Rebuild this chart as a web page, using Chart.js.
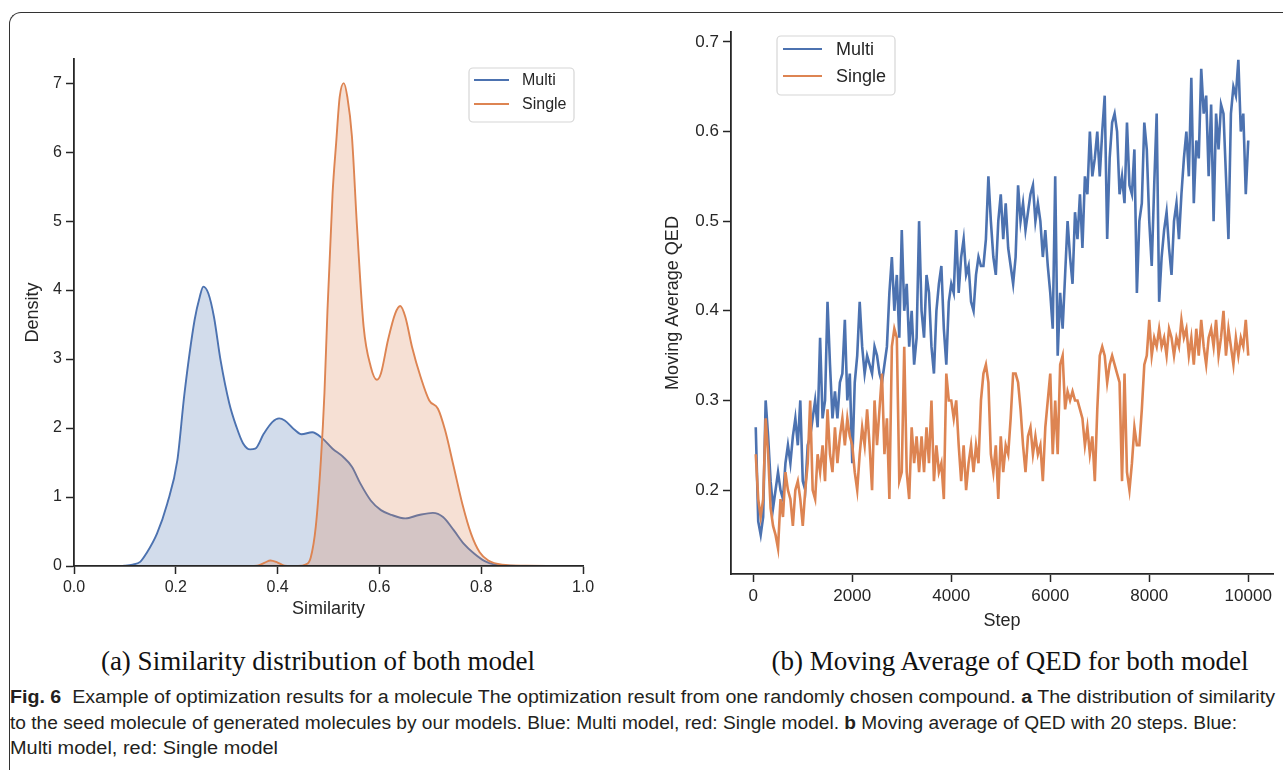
<!DOCTYPE html>
<html><head><meta charset="utf-8">
<script src="https://cdn.jsdelivr.net/npm/chart.js@4.4.0/dist/chart.umd.min.js"></script>
<style>
html,body{margin:0;padding:0;background:#fff;}
body{width:1283px;height:770px;position:relative;overflow:hidden;font-family:"Liberation Sans",Arial,sans-serif;}
#frame{position:absolute;left:9px;top:12px;width:1400px;height:900px;border-top:1.3px solid #333;border-left:1.3px solid #333;border-top-left-radius:12px;box-sizing:border-box;}
#c1{position:absolute;left:0;top:0;}
#c2{position:absolute;left:640px;top:0;}
.sub{position:absolute;font-family:"Liberation Serif","Times New Roman",serif;font-size:27px;color:#111;white-space:nowrap;transform:translate(-50%,-50%);line-height:30px;}
.cap{position:absolute;left:10px;font-family:"Liberation Sans Narrow","Liberation Sans",Arial,sans-serif;font-size:18px;color:#231f20;white-space:nowrap;transform-origin:0 50%;line-height:20px;}
.cap b{font-weight:bold;}
</style></head>
<body>
<div id="frame"></div>
<canvas id="c1" width="640" height="640"></canvas>
<canvas id="c2" width="643" height="640"></canvas>
<div class="sub" style="left:318px;top:661px;">(a) Similarity distribution of both model</div>
<div class="sub" style="left:1010px;top:661px;">(b) Moving Average of QED for both model</div>
<div class="cap" id="cap1" style="top:687px;"><b>Fig. 6</b>&nbsp; Example of optimization results for a molecule The optimization result from one randomly chosen compound. <b>a</b> The distribution of similarity</div>
<div class="cap" id="cap2" style="top:713px;">to the seed molecule of generated molecules by our models. Blue: Multi model, red: Single model. <b>b</b> Moving average of QED with 20 steps. Blue:</div>
<div class="cap" id="cap3" style="top:738px;">Multi model, red: Single model</div>
<script>
// ---------- data: (a) similarity density ----------
const multiSim = [0.08,0.10,0.115,0.13,0.142,0.163,0.183,0.203,0.217,0.237,0.247,0.254,0.264,0.275,0.288,0.305,0.319,0.332,0.346,0.356,0.373,0.390,0.403,0.414,0.434,0.447,0.468,0.488,0.508,0.529,0.546,0.563,0.583,0.603,0.624,0.651,0.678,0.705,0.725,0.746,0.766,0.786,0.807,0.827,0.854,0.90];
const multiDensity = [0,0.005,0.02,0.06,0.18,0.47,0.9,1.53,2.5,3.57,3.9,4.05,3.95,3.61,2.98,2.36,2.02,1.78,1.69,1.70,1.92,2.09,2.14,2.11,1.97,1.91,1.94,1.85,1.70,1.58,1.44,1.19,0.95,0.81,0.74,0.69,0.74,0.77,0.71,0.52,0.32,0.18,0.07,0.02,0.003,0];
const singleSim = [0.34,0.36,0.375,0.386,0.40,0.414,0.44,0.455,0.465,0.475,0.485,0.492,0.498,0.508,0.515,0.522,0.530,0.537,0.546,0.556,0.569,0.583,0.595,0.603,0.617,0.631,0.641,0.651,0.664,0.681,0.698,0.715,0.729,0.746,0.763,0.780,0.797,0.814,0.841,0.888,0.95];
const singleDensity = [0,0.005,0.05,0.08,0.05,0.005,0,0.02,0.12,0.57,1.53,2.5,3.71,5.4,6.13,6.8,7.0,6.8,6.23,4.92,3.47,2.89,2.70,2.79,3.28,3.66,3.77,3.61,3.18,2.74,2.40,2.28,1.97,1.44,0.90,0.47,0.20,0.08,0.02,0.005,0];
const simTicks = [0,0.2,0.4,0.6,0.8,1.0];
const densityTicks = [0,1,2,3,4,5,6,7];

// ---------- data: (b) moving average QED ----------
const qedSteps = [50,100,150,200,250,300,350,400,450,500,550,600,650,700,750,800,850,900,950,1000,
1050,1100,1150,1200,1250,1300,1350,1400,1450,1500,1550,1600,1650,1700,1750,1800,1850,1900,1950,2000,
2050,2100,2150,2200,2250,2300,2350,2400,2450,2500,2550,2600,2650,2700,2750,2800,2850,2900,2950,3000,
3050,3100,3150,3200,3250,3300,3350,3400,3450,3500,3550,3600,3650,3700,3750,3800,3850,3900,3950,4000,
4050,4100,4150,4200,4250,4300,4350,4400,4450,4500,4550,4600,4650,4700,4750,4800,4850,4900,4950,5000,
5050,5100,5150,5200,5250,5300,5350,5400,5450,5500,5550,5600,5650,5700,5750,5800,5850,5900,5950,6000,
6050,6100,6150,6200,6250,6300,6350,6400,6450,6500,6550,6600,6650,6700,6750,6800,6850,6900,6950,7000,
7050,7100,7150,7200,7250,7300,7350,7400,7450,7500,7550,7600,7650,7700,7750,7800,7850,7900,7950,8000,
8050,8100,8150,8200,8250,8300,8350,8400,8450,8500,8550,8600,8650,8700,8750,8800,8850,8900,8950,9000,
9050,9100,9150,9200,9250,9300,9350,9400,9450,9500,9550,9600,9650,9700,9750,9800,9850,9900,9950,10000];
const qedMulti = [0.27,0.165,0.15,0.17,0.30,0.26,0.21,0.18,0.20,0.22,0.20,0.19,0.23,0.25,0.23,0.26,0.28,0.25,0.30,0.21,
0.20,0.25,0.26,0.28,0.30,0.27,0.37,0.28,0.30,0.41,0.34,0.28,0.31,0.28,0.32,0.33,0.39,0.30,0.33,0.23,
0.32,0.35,0.41,0.36,0.33,0.35,0.34,0.33,0.36,0.35,0.33,0.32,0.34,0.36,0.42,0.46,0.40,0.44,0.37,0.49,
0.40,0.43,0.36,0.40,0.34,0.37,0.50,0.40,0.37,0.44,0.42,0.36,0.33,0.40,0.43,0.45,0.38,0.34,0.41,0.43,
0.42,0.49,0.42,0.46,0.48,0.44,0.45,0.41,0.40,0.44,0.46,0.45,0.45,0.48,0.55,0.50,0.46,0.44,0.50,0.53,
0.48,0.52,0.47,0.45,0.43,0.46,0.54,0.50,0.52,0.49,0.51,0.53,0.54,0.50,0.52,0.50,0.46,0.49,0.45,0.42,
0.38,0.55,0.35,0.42,0.38,0.44,0.50,0.46,0.43,0.51,0.48,0.53,0.47,0.55,0.53,0.60,0.55,0.57,0.60,0.55,
0.60,0.64,0.48,0.57,0.61,0.62,0.60,0.53,0.55,0.52,0.61,0.54,0.53,0.58,0.42,0.50,0.52,0.61,0.58,0.50,
0.45,0.54,0.62,0.41,0.46,0.49,0.51,0.47,0.44,0.50,0.52,0.48,0.53,0.57,0.60,0.55,0.66,0.52,0.59,0.57,
0.67,0.62,0.64,0.55,0.63,0.50,0.62,0.58,0.63,0.62,0.55,0.48,0.62,0.65,0.64,0.68,0.60,0.62,0.53,0.59];
const qedSingle = [0.24,0.19,0.17,0.19,0.28,0.24,0.18,0.16,0.15,0.135,0.19,0.17,0.22,0.20,0.19,0.16,0.20,0.21,0.19,0.16,
0.20,0.23,0.30,0.20,0.19,0.24,0.22,0.25,0.21,0.29,0.24,0.22,0.27,0.23,0.26,0.28,0.25,0.28,0.26,0.25,
0.22,0.20,0.24,0.27,0.25,0.29,0.25,0.20,0.30,0.25,0.29,0.33,0.24,0.28,0.19,0.36,0.38,0.37,0.21,0.22,
0.36,0.22,0.19,0.27,0.23,0.26,0.22,0.26,0.22,0.27,0.23,0.30,0.21,0.25,0.22,0.23,0.19,0.33,0.30,0.30,
0.28,0.30,0.25,0.21,0.25,0.20,0.23,0.25,0.22,0.25,0.23,0.30,0.33,0.34,0.32,0.24,0.22,0.25,0.19,0.26,
0.22,0.25,0.24,0.28,0.33,0.33,0.32,0.29,0.25,0.22,0.26,0.27,0.24,0.26,0.24,0.25,0.21,0.27,0.30,0.33,
0.24,0.30,0.24,0.34,0.35,0.29,0.31,0.30,0.31,0.30,0.30,0.29,0.28,0.25,0.27,0.24,0.26,0.21,0.29,0.35,
0.36,0.35,0.32,0.34,0.35,0.34,0.33,0.32,0.21,0.33,0.22,0.20,0.23,0.27,0.25,0.25,0.29,0.34,0.35,0.39,
0.35,0.37,0.36,0.38,0.36,0.37,0.35,0.38,0.37,0.35,0.37,0.36,0.39,0.37,0.38,0.35,0.37,0.34,0.38,0.35,
0.39,0.36,0.34,0.37,0.38,0.36,0.39,0.35,0.37,0.40,0.35,0.38,0.36,0.34,0.37,0.35,0.37,0.36,0.39,0.35];
const qedTicks = [0.2,0.3,0.4,0.5,0.6,0.7];
const stepTicks = [0,2000,4000,6000,8000,10000];

// ---------- styles ----------
const BLUE = '#4C72B0', ORANGE = '#DD8452';
const BLUE_FILL = 'rgba(76,114,176,0.25)', ORANGE_FILL = 'rgba(221,132,82,0.25)';
const AX = '#262626';
const FAM = "'Liberation Sans', Arial, sans-serif";

const boxLegend = {
  id: 'boxLegend',
  afterDraw(chart, args, o) {
    const ctx = chart.ctx;
    ctx.save();
    const r = 4;
    ctx.beginPath();
    ctx.moveTo(o.x + r, o.y);
    ctx.arcTo(o.x + o.w, o.y, o.x + o.w, o.y + o.h, r);
    ctx.arcTo(o.x + o.w, o.y + o.h, o.x, o.y + o.h, r);
    ctx.arcTo(o.x, o.y + o.h, o.x, o.y, r);
    ctx.arcTo(o.x, o.y, o.x + o.w, o.y, r);
    ctx.closePath();
    ctx.fillStyle = 'rgba(255,255,255,0.85)';
    ctx.fill();
    ctx.strokeStyle = '#d6d6d6';
    ctx.lineWidth = 1.2;
    ctx.stroke();
    ctx.font = o.fontSize + 'px ' + FAM;
    ctx.textBaseline = 'middle';
    ctx.fillStyle = AX;
    chart.data.datasets.forEach((ds, i) => {
      const yy = o.rows[i];
      ctx.beginPath();
      ctx.moveTo(o.lx0, yy); ctx.lineTo(o.lx1, yy);
      ctx.strokeStyle = ds.borderColor; ctx.lineWidth = 2.2;
      ctx.stroke();
      ctx.fillText(ds.label, o.tx, yy + 1);
    });
    ctx.restore();
  }
};

function axisCommon(size, cb) {
  return {
    grid: {drawOnChartArea: false, drawTicks: true, tickLength: 8, tickColor: AX, tickWidth: 1.5},
    border: {color: AX, width: 1.8, z: 1},
    ticks: {font: {family: FAM, size: size}, color: AX, padding: 4, autoSkip: false, maxRotation: 0, includeBounds: false, callback: cb}
  };
}

// ---------- chart (a) ----------
const ax1 = axisCommon(16, v => Number(v).toFixed(1));
const ay1 = axisCommon(16, v => String(v));
new Chart(document.getElementById('c1'), {
  type: 'line',
  data: {datasets: [
    {label: 'Multi', data: multiSim.map((x, i) => ({x: x, y: multiDensity[i]})), borderColor: BLUE, backgroundColor: BLUE_FILL, fill: 'origin', borderWidth: 1.9, pointRadius: 0, cubicInterpolationMode: 'monotone', tension: 0.4, order: 1},
    {label: 'Single', data: singleSim.map((x, i) => ({x: x, y: singleDensity[i]})), borderColor: ORANGE, backgroundColor: ORANGE_FILL, fill: 'origin', borderWidth: 1.9, pointRadius: 0, cubicInterpolationMode: 'monotone', tension: 0.4, order: 0}
  ]},
  options: {
    responsive: false, animation: false, devicePixelRatio: 1,
    layout: {padding: {left: 22, top: 59, right: 57, bottom: 20}},
    plugins: {legend: {display: false}, tooltip: {enabled: false},
      boxLegend: {x: 469, y: 68, w: 105, h: 54, rows: [80, 104], lx0: 474, lx1: 509, tx: 522, fontSize: 16}},
    scales: {
      x: Object.assign(ax1, {type: 'linear', min: 0, max: 1,
        afterBuildTicks: a => { a.ticks = simTicks.map(v => ({value: v})); },
        afterFit: a => { a.height = 54; },
        title: {display: true, text: 'Similarity', color: AX, font: {family: FAM, size: 18, lineHeight: 1.2}, padding: 0}}),
      y: Object.assign(ay1, {min: 0, max: 7.35,
        afterBuildTicks: a => { a.ticks = densityTicks.map(v => ({value: v})); },
        afterFit: a => { a.width = 52; },
        title: {display: true, text: 'Density', color: AX, font: {family: FAM, size: 18, lineHeight: 1.2}, padding: 0}})
    }
  },
  plugins: [boxLegend]
});

// ---------- chart (b) ----------
const ax2 = axisCommon(17, v => String(v));
const ay2 = axisCommon(17, v => Number(v).toFixed(1));
new Chart(document.getElementById('c2'), {
  type: 'line',
  data: {datasets: [
    {label: 'Multi', data: qedSteps.map((s, i) => ({x: s, y: qedMulti[i]})), borderColor: BLUE, borderWidth: 2.6, pointRadius: 0, tension: 0, fill: false, order: 1},
    {label: 'Single', data: qedSteps.map((s, i) => ({x: s, y: qedSingle[i]})), borderColor: ORANGE, borderWidth: 2.6, pointRadius: 0, tension: 0, fill: false, order: 0}
  ]},
  options: {
    responsive: false, animation: false, devicePixelRatio: 1,
    layout: {padding: {left: 22, top: 32, right: 10, bottom: 8}},
    plugins: {legend: {display: false}, tooltip: {enabled: false},
      boxLegend: {x: 137, y: 36, w: 118, h: 59, rows: [49, 76], lx0: 143, lx1: 182, tx: 196, fontSize: 18}},
    scales: {
      x: Object.assign(ax2, {type: 'linear', min: -450, max: 10500,
        afterBuildTicks: a => { a.ticks = stepTicks.map(v => ({value: v})); },
        afterFit: a => { a.height = 58; },
        title: {display: true, text: 'Step', color: AX, font: {family: FAM, size: 18, lineHeight: 1.2}, padding: 0}}),
      y: Object.assign(ay2, {min: 0.1064, max: 0.711,
        afterBuildTicks: a => { a.ticks = qedTicks.map(v => ({value: v})); },
        afterFit: a => { a.width = 69; },
        title: {display: true, text: 'Moving Average QED', color: AX, font: {family: FAM, size: 18, lineHeight: 1.2}, padding: 0}})
    }
  },
  plugins: [boxLegend]
});

// caption line widths to match the original layout
const capTargets = {cap1: 1265, cap2: 1227, cap3: 268};
Object.keys(capTargets).forEach(id => {
  const el = document.getElementById(id);
  const w = el.getBoundingClientRect().width;
  el.style.transform = 'scaleX(' + (capTargets[id] / w) + ')';
});
</script>
</body></html>
